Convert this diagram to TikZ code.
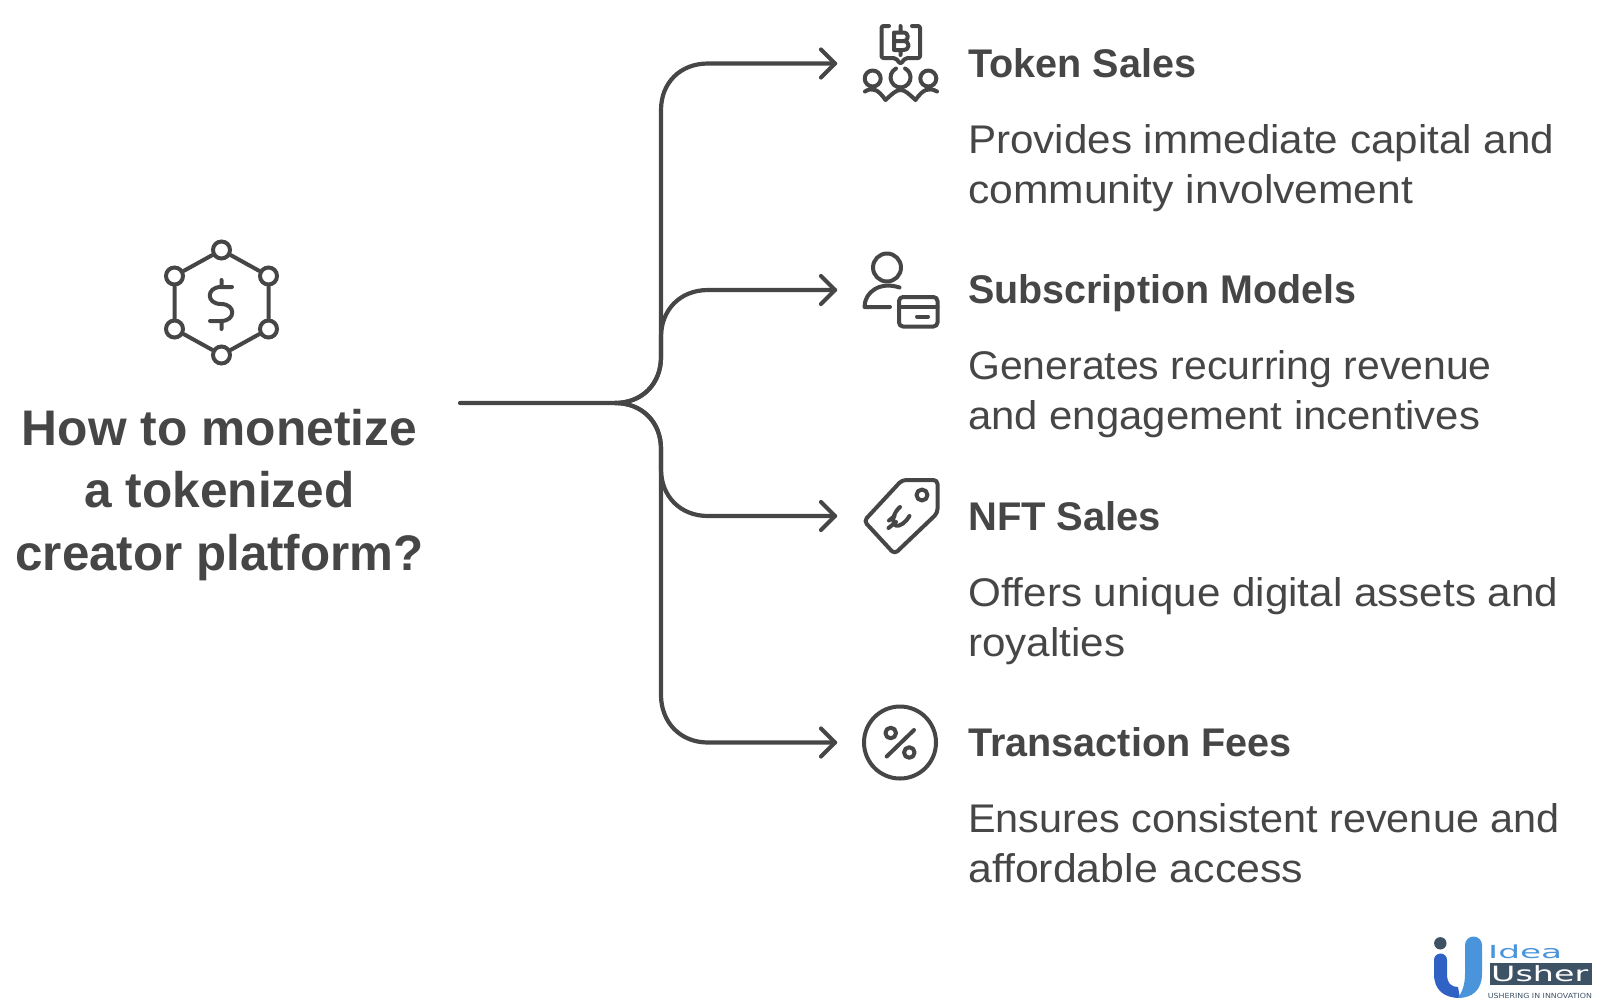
\documentclass[tikz,border=0pt]{standalone}
\usepackage{fontspec}
\usepackage{graphicx}
\setmainfont{Liberation Sans}
\newfontfamily\logofont{DejaVu Sans}
\definecolor{ink}{HTML}{464646}
\definecolor{logodark}{HTML}{3E5266}
\definecolor{logoblue}{HTML}{4A94DC}
\definecolor{logodeep}{HTML}{2F62C4}
\newcommand{\fitline}[2]{\resizebox{#1pt}{\height}{#2}}
\tikzset{
  wire/.style={draw=ink,line width=4.2pt,line cap=round,line join=round},
  iconline/.style={draw=ink,line width=4pt,line cap=round,line join=round},
  hexdot/.style={circle,draw=ink,line width=4pt,minimum size=17pt,inner sep=0pt},
  head/.style={anchor=base west,inner sep=0pt,text=ink,font=\fontsize{40}{40}\selectfont\bfseries},
  body/.style={anchor=base west,inner sep=0pt,text=ink,font=\fontsize{40}{40}\selectfont},
  titletext/.style={anchor=base,inner sep=0pt,text=ink,font=\fontsize{50}{50}\selectfont\bfseries},
  arrowhead/.style={wire}
}
\begin{document}
\begin{tikzpicture}[x=1pt,y=-1pt]
\useasboundingbox (0,0) rectangle (1600,1002);
% title
\node[titletext] (t1) at (219.5,445.5) {\fitline{395}{How to monetize}};
\node[titletext] (t2) at (219.5,507.5) {\fitline{270}{a tokenized}};
\node[titletext] (t3) at (219.5,570.5) {\fitline{408}{creator platform?}};
% hexagon icon
\foreach \n/\x/\y in {a/221.5/250,b/268.5/276,c/268.5/329,d/221.5/355,e/174.5/329,f/174.5/276}
  \node[hexdot] (\n) at (\x,\y) {};
\draw[iconline] (a)--(b) (b)--(c) (c)--(d) (d)--(e) (e)--(f) (f)--(a);
\draw[iconline] (221.5,280) -- (221.5,287) (221.5,322) -- (221.5,329)
  (232,287) -- (221,287) .. controls (206,287) and (206,304) .. (221,304)
  .. controls (236,304) and (236,321) .. (221,321) -- (210,321);
% connectors
\coordinate (src) at (460,403);
\coordinate (e1) at (835,63.5);
\coordinate (e2) at (835,290);
\coordinate (e3) at (835,516);
\coordinate (e4) at (835,742.5);
\draw[wire] (src) -- (615,403) .. controls (642,403) and (661,384) .. (661,357) -- (661,110)
  .. controls (661,83) and (680,63.5) .. (708,63.5) -- (e1);
\draw[wire] (615,403) .. controls (642,403) and (661,384) .. (661,357) -- (661,337)
  .. controls (661,310) and (680,290) .. (708,290) -- (e2);
\draw[wire] (615,403) .. controls (642,403) and (661,422) .. (661,449) -- (661,469)
  .. controls (661,496) and (680,516) .. (708,516) -- (e3);
\draw[wire] (615,403) .. controls (642,403) and (661,422) .. (661,449) -- (661,695)
  .. controls (661,722) and (680,742.5) .. (708,742.5) -- (e4);
\foreach \e in {e1,e2,e3,e4}
  \draw[arrowhead] ([shift={(-14,-14)}]\e) -- (\e) -- ([shift={(-14,14)}]\e);
% icon 1
\draw[iconline,rounded corners=2pt] (889,26) -- (881.5,26) -- (881.5,58) -- (895.5,58) -- (900.5,64) -- (905.5,58) -- (920,58) -- (920,26) -- (912,26);
\draw[iconline] (894,32.5) -- (903,32.5) .. controls (909.5,32.5) and (909.5,41) .. (903,41) -- (894,41)
  (903,41) .. controls (910.5,41) and (910.5,50) .. (903,50) -- (894,50) -- (894,32.5)
  (900.5,26) -- (900.5,32) (900.5,50) -- (900.5,55);
\draw[iconline] (872.7,78.5) circle (8);
\draw[iconline] (928.3,78.5) circle (8);
\draw[iconline] (896,68.5) arc[start angle=117,end angle=423,radius=10pt];
\draw[iconline] (865,91.5) .. controls (872,87) and (878,89) .. (885.5,100)
  .. controls (892,94) and (896,90) .. (900.5,90) .. controls (905,90) and (909,94) .. (915.5,100)
  .. controls (923,89) and (929,87) .. (937,91.5);
% icon 2
\draw[iconline] (887,267.5) circle (14);
\draw[iconline] (899.5,287.5) .. controls (880,281) and (864.5,292) .. (864.5,307) -- (890,307);
\draw[iconline,rounded corners=4pt] (899,297) rectangle (937.5,326.5);
\draw[iconline] (899,307) -- (937.5,307) (917,316.5) -- (928,316.5);
% icon 3
\draw[iconline,rounded corners=4pt] (902,480) -- (937.5,480) -- (937.5,513) -- (894.5,554) -- (864,521) -- cycle;
\draw[iconline] (922,495) circle (5.5);
\draw[iconline] (900,507) .. controls (893,513) and (891.5,522) .. (895.5,525.5) .. controls (900,527) and (906,522) .. (909.5,516);
\draw[iconline] (888.5,528) -- (896,522) (889,520.5) -- (894.5,516);
% icon 4
\draw[iconline] (900,742.5) circle (36);
\draw[iconline] (886.7,756.5) -- (914,730);
\draw[iconline] (890.7,733) circle (5.3);
\draw[iconline] (909.3,752.5) circle (5.3);
% texts
\node[head] (h1) at (968,77) {\fitline{228}{Token Sales}};
\node[body] (b11) at (968,153) {\fitline{586}{Provides immediate capital and}};
\node[body] (b12) at (968,203) {\fitline{445}{community involvement}};
\node[head] (h2) at (968,303) {\fitline{388}{Subscription Models}};
\node[body] (b21) at (968,379) {\fitline{523.5}{Generates recurring revenue}};
\node[body] (b22) at (968,429) {\fitline{512}{and engagement incentives}};
\node[head] (h3) at (968,530) {\fitline{193}{NFT Sales}};
\node[body] (b31) at (968,606) {\fitline{590}{Offers unique digital assets and}};
\node[body] (b32) at (968,656) {\fitline{157}{royalties}};
\node[head] (h4) at (968,756) {\fitline{323.5}{Transaction Fees}};
\node[body] (b41) at (968,832) {\fitline{591.5}{Ensures consistent revenue and}};
\node[body] (b42) at (968,882) {\fitline{335}{affordable access}};
% logo
\fill[logodark] (1440.3,943.3) circle (6.2);
\fill[logodeep] (1434,960) arc[start angle=180,end angle=0,radius=6.5pt] -- (1447,974)
  .. controls (1447,984) and (1452,987) .. (1458,987) -- (1460,998)
  .. controls (1444,998) and (1434,990) .. (1434,974) -- cycle;
\fill[logoblue] (1465,945) arc[start angle=180,end angle=0,radius=8.5pt] -- (1482,974)
  .. controls (1482,990) and (1472,998) .. (1458,998) .. controls (1462,992) and (1465,985) .. (1465,974) -- cycle;
\fill[logodark] (1490,962.7) rectangle (1591.7,985);
\node[anchor=base west,inner sep=0pt,text=logoblue,font=\logofont\fontsize{18}{18}\selectfont] (lg1) at (1488,958) {\fitline{74}{Idea}};
\node[anchor=base west,inner sep=0pt,text=white,font=\logofont\fontsize{21}{21}\selectfont] (lg2) at (1491,981.7) {\fitline{97}{Usher}};
\node[anchor=base west,inner sep=0pt,text=logodark,font=\logofont\fontsize{7}{7}\selectfont] (lg3) at (1487.7,998) {\fitline{104}{USHERING IN INNOVATION}};
\end{tikzpicture}
\end{document}
